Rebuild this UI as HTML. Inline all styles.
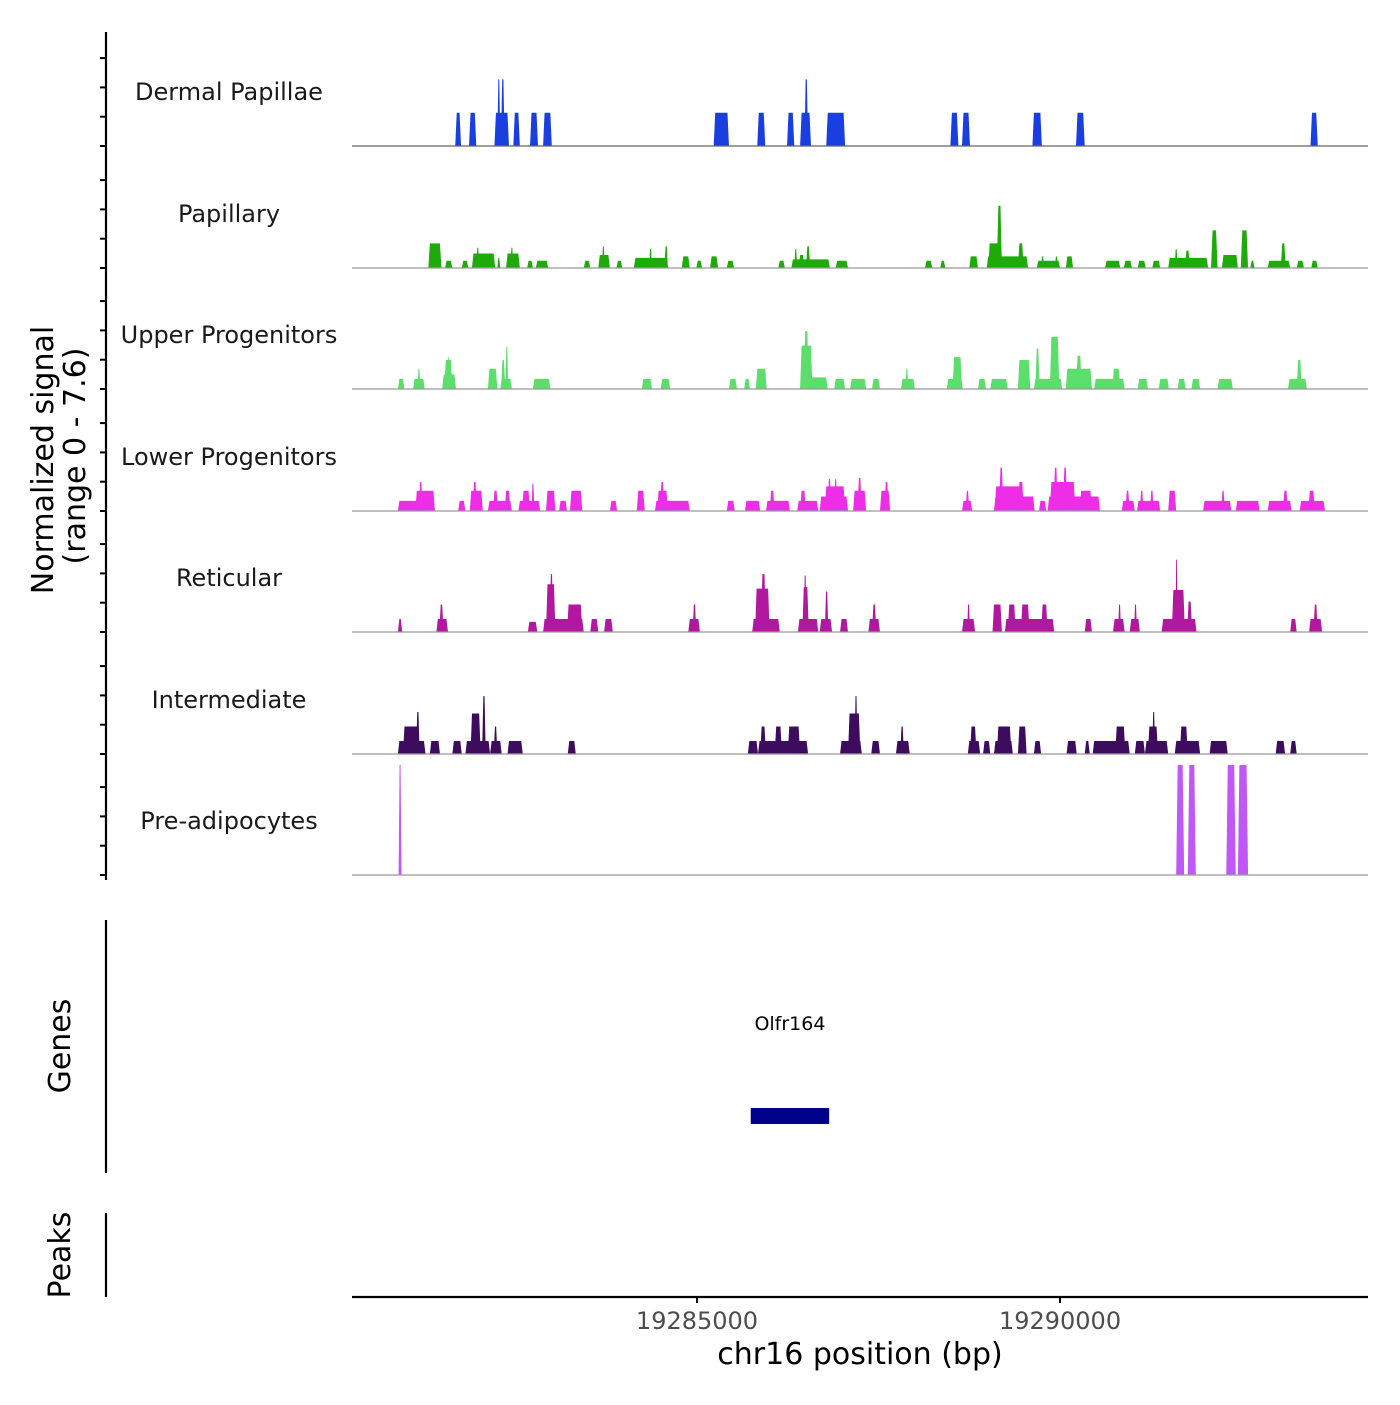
<!DOCTYPE html>
<html><head><meta charset="utf-8"><style>
body{margin:0;background:#fff}
svg text{font-family:"DejaVu Sans","Liberation Sans",sans-serif}
</style></head><body>
<svg id="chart" width="1400" height="1400" xmlns="http://www.w3.org/2000/svg"></svg>
<script>
const xTickValues=[19285000,19290000];
const xTickLabels=["19285000","19290000"];
const trackNames=["Dermal Papillae","Papillary","Upper Progenitors","Lower Progenitors","Reticular","Intermediate","Pre-adipocytes"];
const trackColors=["#1a3fe0","#1eab0a","#5cde6a","#ee2de6","#b2189f","#3d0c5e","#c057f7"];
const dermalPapillae=[[19281.67,19281.75,2.3],[19281.86,19281.96,2.3],[19282.21,19282.41,2.3],[19282.25,19282.29,4.6],[19282.30,19282.35,4.6],[19282.47,19282.56,2.3],[19282.70,19282.81,2.3],[19282.88,19283.00,2.3],[19285.23,19285.44,2.3],[19285.83,19285.94,2.3],[19286.24,19286.34,2.3],[19286.42,19286.57,2.3],[19286.48,19286.53,4.6],[19286.78,19287.04,2.3],[19288.49,19288.60,2.3],[19288.65,19288.76,2.3],[19289.62,19289.75,2.3],[19290.22,19290.34,2.3],[19293.45,19293.55,2.3]];
const papillary=[[19281.30,19281.48,1.7],[19281.53,19281.63,0.5],[19281.76,19281.85,0.5],[19281.90,19282.22,1.0],[19281.96,19282.00,1.4],[19282.25,19282.29,0.7],[19282.37,19282.56,1.0],[19282.43,19282.47,1.4],[19282.66,19282.74,0.5],[19282.78,19282.95,0.5],[19283.44,19283.53,0.5],[19283.64,19283.80,0.9],[19283.69,19283.73,1.5],[19283.89,19283.97,0.5],[19284.13,19284.60,0.7],[19284.34,19284.38,1.3],[19284.55,19284.60,1.5],[19284.79,19284.90,0.8],[19284.99,19285.07,0.5],[19285.18,19285.29,0.8],[19285.41,19285.51,0.5],[19286.12,19286.21,0.5],[19286.30,19286.83,0.6],[19286.34,19286.38,1.3],[19286.40,19286.48,0.9],[19286.50,19286.56,1.5],[19286.91,19287.08,0.5],[19288.14,19288.24,0.5],[19288.35,19288.42,0.5],[19288.75,19288.87,0.8],[19288.99,19289.56,0.8],[19289.01,19289.18,1.7],[19289.13,19289.20,4.3],[19289.42,19289.50,1.7],[19289.68,19290.00,0.5],[19289.74,19289.78,0.8],[19289.93,19289.97,0.8],[19290.08,19290.18,0.8],[19290.62,19290.83,0.5],[19290.88,19290.99,0.5],[19291.07,19291.18,0.5],[19291.27,19291.38,0.5],[19291.49,19292.04,0.7],[19291.58,19291.62,1.3],[19291.72,19291.79,1.2],[19292.08,19292.17,2.6],[19292.23,19292.45,0.9],[19292.49,19292.59,2.6],[19292.62,19292.68,0.5],[19292.86,19293.17,0.5],[19293.04,19293.11,1.7],[19293.26,19293.36,0.5],[19293.46,19293.55,0.5]];
const upperProgenitors=[[19280.88,19280.97,0.7],[19281.09,19281.25,0.7],[19281.15,19281.19,1.4],[19281.49,19281.68,1.0],[19281.52,19281.63,2.0],[19281.56,19281.59,2.2],[19282.12,19282.25,1.4],[19282.29,19282.45,0.7],[19282.30,19282.36,2.0],[19282.36,19282.40,2.9],[19282.74,19282.98,0.7],[19284.24,19284.38,0.7],[19284.50,19284.63,0.7],[19285.44,19285.55,0.7],[19285.65,19285.73,0.7],[19285.81,19285.96,1.4],[19286.42,19286.80,0.8],[19286.42,19286.59,3.0],[19286.47,19286.54,4.0],[19286.89,19287.04,0.7],[19287.11,19287.33,0.7],[19287.41,19287.52,0.7],[19287.81,19288.00,0.7],[19287.87,19287.91,1.4],[19288.44,19288.66,0.7],[19288.52,19288.65,2.2],[19288.87,19288.98,0.7],[19289.04,19289.28,0.7],[19289.42,19289.59,2.0],[19289.64,19290.03,0.7],[19289.66,19289.72,2.8],[19289.86,19289.99,3.6],[19290.08,19290.44,1.4],[19290.22,19290.30,2.3],[19290.47,19290.89,0.7],[19290.72,19290.83,1.4],[19291.07,19291.21,0.7],[19291.36,19291.50,0.7],[19291.62,19291.73,0.7],[19291.81,19291.93,0.7],[19292.17,19292.38,0.7],[19293.14,19293.40,0.7],[19293.26,19293.33,2.0]];
const lowerProgenitors=[[19280.88,19281.39,0.7],[19281.12,19281.39,1.4],[19281.17,19281.22,2.0],[19281.71,19281.81,0.7],[19281.87,19282.05,1.4],[19281.91,19281.97,2.0],[19282.12,19282.45,0.7],[19282.19,19282.26,1.4],[19282.35,19282.43,1.4],[19282.54,19282.84,0.7],[19282.59,19282.70,1.4],[19282.72,19282.76,1.9],[19282.92,19283.05,1.4],[19283.10,19283.21,0.7],[19283.25,19283.42,1.4],[19283.80,19283.90,0.7],[19284.17,19284.28,1.4],[19284.42,19284.90,0.7],[19284.45,19284.60,1.4],[19284.49,19284.55,2.0],[19285.41,19285.52,0.7],[19285.66,19285.87,0.7],[19285.95,19286.28,0.7],[19286.00,19286.07,1.4],[19286.38,19286.67,0.7],[19286.42,19286.50,1.4],[19286.69,19287.08,1.0],[19286.76,19287.04,1.7],[19286.80,19286.85,2.2],[19286.89,19286.93,2.2],[19287.15,19287.33,1.4],[19287.21,19287.27,2.3],[19287.52,19287.66,1.4],[19287.58,19287.64,2.0],[19288.65,19288.79,0.7],[19288.70,19288.75,1.4],[19289.09,19289.65,1.0],[19289.10,19289.50,1.7],[19289.16,19289.22,3.0],[19289.42,19289.50,2.0],[19289.71,19289.81,0.7],[19289.83,19290.55,1.0],[19289.86,19290.21,2.0],[19289.91,19289.97,3.0],[19290.04,19290.10,3.0],[19290.27,19290.44,1.4],[19290.85,19291.03,0.7],[19290.90,19290.96,1.4],[19291.06,19291.38,0.7],[19291.10,19291.15,1.4],[19291.24,19291.29,1.4],[19291.49,19291.60,1.4],[19291.97,19292.36,0.7],[19292.22,19292.27,1.4],[19292.42,19292.75,0.7],[19292.86,19293.19,0.7],[19293.07,19293.14,1.4],[19293.30,19293.65,0.7],[19293.42,19293.51,1.4]];
const reticular=[[19280.88,19280.94,0.9],[19281.41,19281.57,0.9],[19281.45,19281.51,1.9],[19282.67,19282.80,0.7],[19282.88,19283.44,0.9],[19282.92,19283.05,3.3],[19282.97,19283.02,4.0],[19283.21,19283.42,1.9],[19283.53,19283.64,0.9],[19283.72,19283.84,0.9],[19284.88,19285.04,0.9],[19284.94,19284.99,1.9],[19285.76,19286.14,0.9],[19285.80,19286.00,3.0],[19285.88,19285.95,4.0],[19286.39,19286.67,0.9],[19286.45,19286.54,3.1],[19286.47,19286.51,3.9],[19286.69,19286.86,0.9],[19286.76,19286.81,2.8],[19286.97,19287.08,0.9],[19287.36,19287.52,0.9],[19287.41,19287.47,1.9],[19288.65,19288.83,0.9],[19288.72,19288.76,1.9],[19289.07,19289.20,1.9],[19289.24,19289.92,0.9],[19289.28,19289.39,1.9],[19289.46,19289.58,1.9],[19289.74,19289.83,1.9],[19290.34,19290.44,0.9],[19290.73,19290.89,0.9],[19290.80,19290.84,1.9],[19290.96,19291.10,0.9],[19291.02,19291.06,1.9],[19291.40,19291.88,0.9],[19291.54,19291.72,2.9],[19291.59,19291.62,5.0],[19291.75,19291.82,2.1],[19293.17,19293.26,0.9],[19293.43,19293.61,0.9],[19293.49,19293.55,1.9]];
const intermediate=[[19280.88,19281.26,0.9],[19280.95,19281.18,1.9],[19281.13,19281.18,2.9],[19281.32,19281.46,0.9],[19281.63,19281.76,0.9],[19281.81,19282.15,0.9],[19281.88,19282.02,2.8],[19282.04,19282.09,4.0],[19282.15,19282.31,0.9],[19282.20,19282.25,1.9],[19282.39,19282.60,0.9],[19283.22,19283.33,0.9],[19285.70,19285.84,0.9],[19285.84,19286.53,0.9],[19285.87,19285.95,1.9],[19286.07,19286.17,1.9],[19286.25,19286.42,1.9],[19286.97,19287.27,0.9],[19287.08,19287.25,2.8],[19287.17,19287.21,4.0],[19287.40,19287.52,0.9],[19287.74,19287.93,0.9],[19287.80,19287.85,1.9],[19288.73,19288.90,0.9],[19288.76,19288.85,1.9],[19288.94,19289.04,0.9],[19289.09,19289.35,0.9],[19289.13,19289.33,1.9],[19289.42,19289.54,1.9],[19289.64,19289.74,0.9],[19290.09,19290.23,0.9],[19290.34,19290.41,0.9],[19290.45,19290.96,0.9],[19290.76,19290.90,1.9],[19291.03,19291.17,0.9],[19291.17,19291.49,0.9],[19291.21,19291.35,1.9],[19291.27,19291.31,2.9],[19291.58,19291.93,0.9],[19291.65,19291.76,1.9],[19292.06,19292.31,0.9],[19292.97,19293.10,0.9],[19293.17,19293.26,0.9]];
const preAdipocytes=[[19280.89,19280.93,7.6],[19291.60,19291.71,7.6],[19291.76,19291.87,7.6],[19292.29,19292.42,7.6],[19292.45,19292.59,7.6]];
const geneStart=19285740, geneEnd=19286820, geneName="Olfr164";
const trackData=[dermalPapillae,papillary,upperProgenitors,lowerProgenitors,reticular,intermediate,preAdipocytes];

const NS="http://www.w3.org/2000/svg";
const svg=document.getElementById('chart');
const X0=352,X1=1368,BP0=19280248,BP1=19294242;
const xScale=bp=>X0+(bp-BP0)/(BP1-BP0)*(X1-X0);
const baselines=[146,268,389,511,632,754,875];
const yMax=7.6, yPix=110;
const yScale=(v,b)=>b-v/yMax*yPix;
function el(tag,attrs,parent){const e=document.createElementNS(NS,tag);for(const k in attrs)e.setAttribute(k,attrs[k]);(parent||svg).appendChild(e);return e;}

let ax=el('line',{x1:106,y1:32,x2:106,y2:880,stroke:'#000','stroke-width':2.2});


baselines.forEach(b=>{for(let k=0;k<4;k++){const t=el('line',{x1:100,x2:106,y1:b-k*29.3,y2:b-k*29.3,stroke:'#000','stroke-width':2});

}});
let ga=el('line',{x1:106,y1:920,x2:106,y2:1173,stroke:'#000','stroke-width':2.2});


let pa=el('line',{x1:106,y1:1213,x2:106,y2:1297,stroke:'#000','stroke-width':2.2});



let yt=el('text',{transform:'translate(53,460) rotate(-90)','text-anchor':'middle','font-size':30,fill:'#000'});
yt.textContent='Normalized signal';


let yt2=el('text',{transform:'translate(85,456) rotate(-90)','text-anchor':'middle','font-size':30,fill:'#000'});
yt2.textContent='(range 0 - 7.6)';


let gt=el('text',{transform:'translate(70,1046) rotate(-90)','text-anchor':'middle','font-size':30,fill:'#000'});
gt.textContent='Genes';


let pt=el('text',{transform:'translate(70,1255) rotate(-90)','text-anchor':'middle','font-size':30,fill:'#000'});
pt.textContent='Peaks';



trackData.forEach((blocks,i)=>{
  const b=baselines[i];
  const g=el('g',{});
  
  
  const lab=el('text',{x:229,y:b-46,'text-anchor':'middle','font-size':24,fill:'#1a1a1a'},g);
  lab.textContent=trackNames[i];
  
  
  blocks.forEach(d=>{
    const x1=xScale(d[0]*1000),x2=xScale(d[1]*1000),y=yScale(d[2],b);
    const s=Math.min(1.5,(x2-x1)/3);
    const p=el('polygon',{points:`${x1},${b} ${x1+s},${y} ${x2-s},${y} ${x2},${b}`,fill:trackColors[i]},g);
    
    
  });
  const bl=el('line',{x1:X0,x2:X1,y1:b,y2:b,stroke:i==0?'#666':'#999','stroke-width':1.2},g);
  
  
});

const gx1=xScale(geneStart),gx2=xScale(geneEnd);
let gb=el('rect',{x:gx1,y:1108,width:gx2-gx1,height:16,fill:'#00008b'});


let gl=el('text',{x:(gx1+gx2)/2,y:1030,'text-anchor':'middle','font-size':19,fill:'#000'});
gl.textContent=geneName;



let xa=el('line',{x1:X0,x2:X1,y1:1297,y2:1297,stroke:'#000','stroke-width':2.2});


xTickValues.forEach((v,i)=>{
  const x=xScale(v);
  const t=el('line',{x1:x,x2:x,y1:1297,y2:1303,stroke:'#000','stroke-width':2});
  
  
  const l=el('text',{x:x,y:1329,'text-anchor':'middle','font-size':24,fill:'#4d4d4d'});
  l.textContent=xTickLabels[i];
  
  
});
let xt=el('text',{x:860,y:1364,'text-anchor':'middle','font-size':30,fill:'#000'});
xt.textContent='chr16 position (bp)';


</script>
</body></html>
